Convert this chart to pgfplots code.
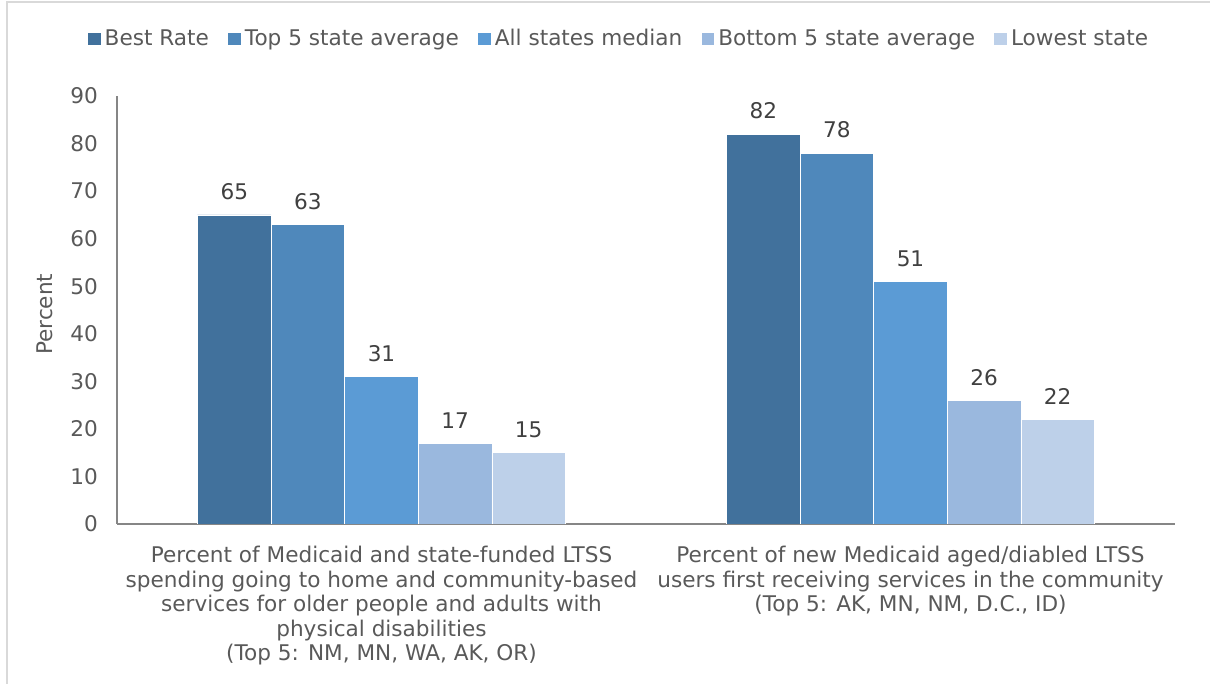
\documentclass[border=0pt]{standalone}
\usepackage{pgfplots}
\pgfplotsset{compat=1.18}
\usepackage{fontspec}
\setmainfont{DejaVu Sans}
\definecolor{cA}{HTML}{41719C}
\definecolor{cB}{HTML}{4F88BB}
\definecolor{cC}{HTML}{5B9BD5}
\definecolor{cD}{HTML}{9AB8DE}
\definecolor{cE}{HTML}{BDD0E9}
\definecolor{txt}{HTML}{595959}
\definecolor{lbl}{HTML}{404040}
\definecolor{axl}{HTML}{868686}
\newcommand{\cf}{\fontsize{10.8}{12.3}\selectfont}
\pgfplotsset{/pgfplots/ybar legend/.style={/pgfplots/legend image code/.code={\fill[##1,draw=none] (0pt,-3.2pt) rectangle (6.4pt,3.2pt);}}}
\begin{document}
\begin{tikzpicture}
\useasboundingbox (0,0) rectangle (605pt,342pt);
\draw[black!15, line width=1pt] (3.5pt,0) -- (3.5pt,341pt) -- (605pt,341pt);
\begin{axis}[
  at={(58.5pt,80pt)}, anchor=south west,
  scale only axis, width=529pt, height=214pt,
  ybar=0pt, bar width=36.8pt,
  xmin=-0.5, xmax=1.5, ymin=0, ymax=90,
  xtick={0,1},
  xticklabels={{Percent of Medicaid and state-funded LTSS\\spending going to home and community-based\\services for older people and adults with\\physical disabilities\\(Top 5: NM, MN, WA, AK, OR)},
               {Percent of new Medicaid aged/diabled LTSS\\users first receiving services in the community\\(Top 5: AK, MN, NM, D.C., ID)}},
  ytick={0,10,...,90},
  major tick length=0pt,
  axis lines=left,
  axis line style={-, draw=axl, line width=0.9pt},
  tick label style={font=\cf, text=txt},
  /pgf/number format/assume math mode=true,
  xticklabel style={align=center, yshift=-7.5pt},
  yticklabel style={xshift=-6pt},
  ylabel={Percent},
  ylabel style={at={(axis description cs:-0.068,0.49)}, anchor=center, font=\cf, text=txt},
  nodes near coords,
  every node near coord/.append style={font=\cf, text=lbl, yshift=4pt},
  legend columns=-1,
  legend style={draw=none, at={(0.4755,1.133)}, anchor=center, font=\cf, text=txt,
    /tikz/every even column/.append style={column sep=7.6pt}, inner sep=0pt},
  legend cell align=left,
]
\addplot[fill=cA, draw=white, line width=0.3pt] coordinates {(0,65) (1,82)};
\addplot[fill=cB, draw=white, line width=0.3pt] coordinates {(0,63) (1,78)};
\addplot[fill=cC, draw=white, line width=0.3pt] coordinates {(0,31) (1,51)};
\addplot[fill=cD, draw=white, line width=0.3pt] coordinates {(0,17) (1,26)};
\addplot[fill=cE, draw=white, line width=0.3pt] coordinates {(0,15) (1,22)};
\legend{Best Rate, Top 5 state average, All states median, Bottom 5 state average, Lowest state}
\end{axis}
\end{tikzpicture}
\end{document}
